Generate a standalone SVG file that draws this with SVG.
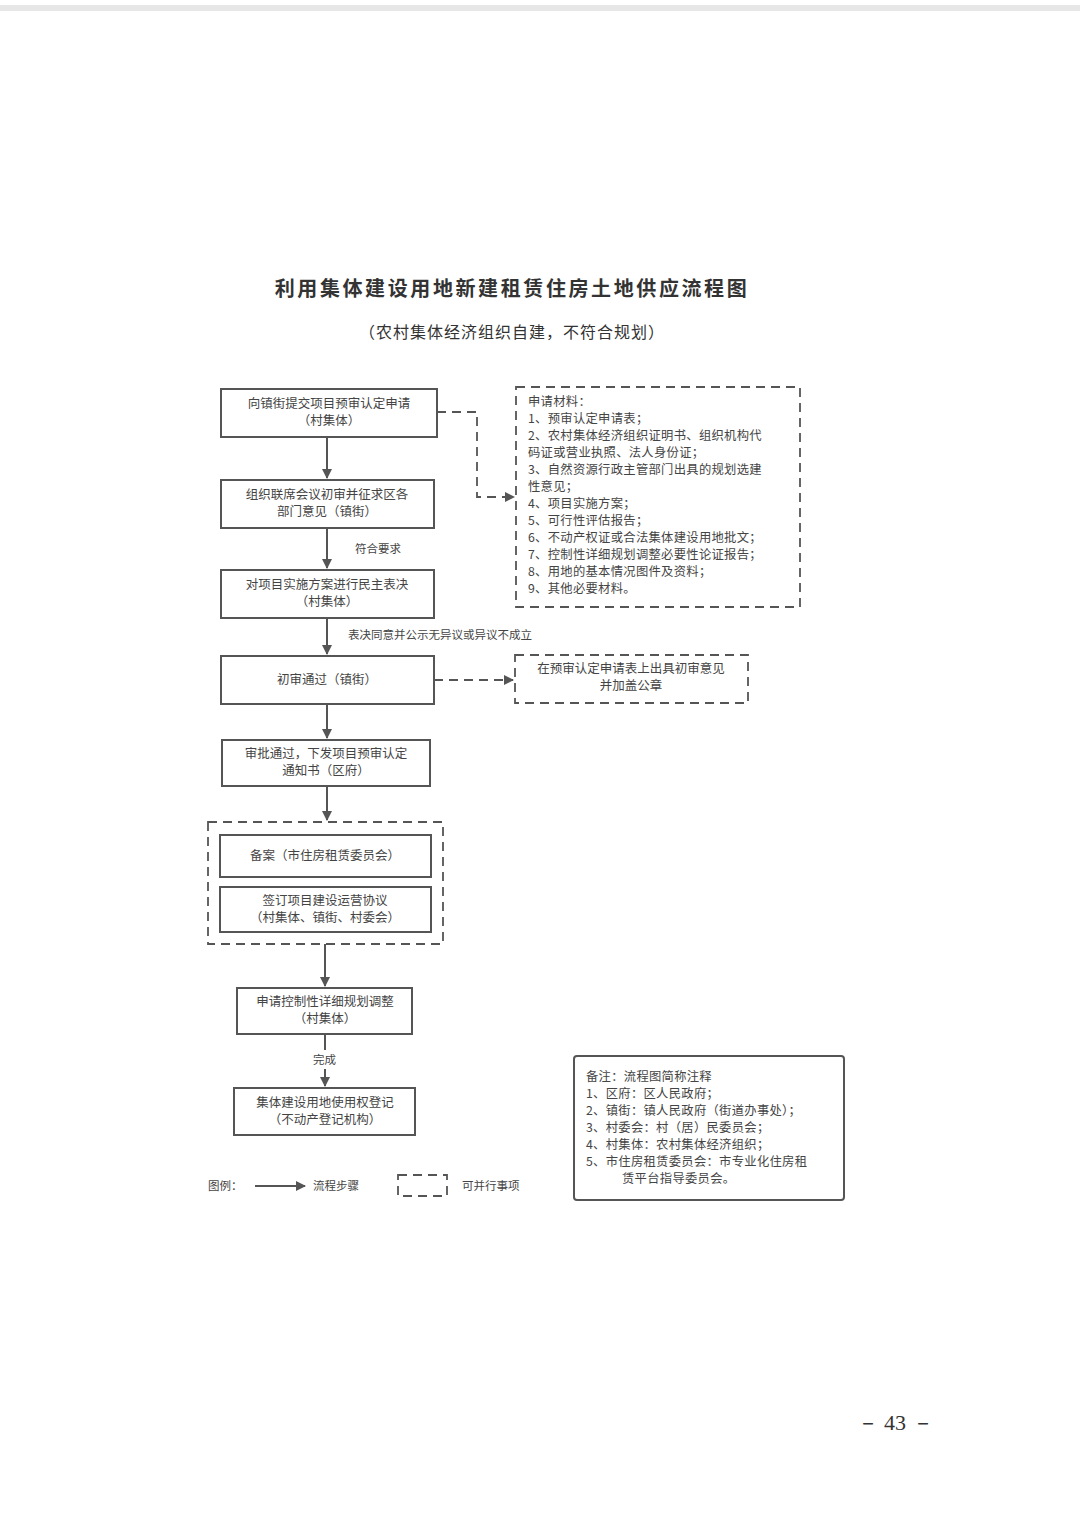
<svg xmlns="http://www.w3.org/2000/svg" width="1080" height="1528" viewBox="0 0 1080 1528">
<style>
text{font-family:"Noto Sans CJK SC","Liberation Sans",sans-serif;fill:#444}
.t{font-size:12.5px;text-anchor:middle}
.s{font-size:11.5px}
.m{font-size:12.3px;letter-spacing:0.3px}
.b{fill:#fff;stroke:#555;stroke-width:2}
.d{fill:none;stroke:#555;stroke-width:1.8;stroke-dasharray:9,6}
.c{fill:none;stroke:#555;stroke-width:2}
</style>
<defs><marker id="a" markerWidth="10" markerHeight="10" refX="9" refY="5" orient="auto" markerUnits="userSpaceOnUse"><path d="M0,0L10,5L0,10z" fill="#555"/></marker></defs>
<rect width="1080" height="1528" fill="#fff"/>
<rect x="0" y="5" width="1080" height="6" fill="#e6e6e6"/>
<text x="512" y="296" style="font-size:20px;font-weight:bold;text-anchor:middle;fill:#333;letter-spacing:2.6px">利用集体建设用地新建租赁住房土地供应流程图</text>
<text x="512" y="338" style="font-size:16px;text-anchor:middle;fill:#333;letter-spacing:1px">（农村集体经济组织自建，不符合规划）</text>
<g id="connectors">
<path class="c" d="M327,437V478" marker-end="url(#a)"/>
<path class="c" d="M327,528V568" marker-end="url(#a)"/>
<path class="c" d="M327,618V654" marker-end="url(#a)"/>
<path class="c" d="M327,704V738" marker-end="url(#a)"/>
<path class="c" d="M327,786V820" marker-end="url(#a)"/>
<path class="c" d="M325,944V986" marker-end="url(#a)"/>
<path class="c" d="M325,1034V1050"/>
<path class="c" d="M325,1069V1086" marker-end="url(#a)"/>
<path class="d" d="M437,412H477V497H514" marker-end="url(#a)"/>
<path class="d" d="M434,680H513" marker-end="url(#a)"/>
<text class="s" x="355" y="553">符合要求</text>
<text class="s" x="348" y="639">表决同意并公示无异议或异议不成立</text>
<text class="s" x="313" y="1064">完成</text>
</g>
<g id="n1"><rect class="b" x="221" y="389" width="216" height="48"/><text class="t" x="329" y="408">向镇街提交项目预审认定申请</text><text class="t" x="329" y="425">（村集体）</text></g>
<g id="n2"><rect class="b" x="221" y="480" width="213" height="48"/><text class="t" x="327" y="499">组织联席会议初审并征求区各</text><text class="t" x="327" y="516">部门意见（镇街）</text></g>
<g id="n3"><rect class="b" x="221" y="570" width="213" height="48"/><text class="t" x="327" y="589">对项目实施方案进行民主表决</text><text class="t" x="327" y="606">（村集体）</text></g>
<g id="n4"><rect class="b" x="221" y="656" width="213" height="48"/><text class="t" x="327" y="684">初审通过（镇街）</text></g>
<g id="n5"><rect class="b" x="222" y="740" width="208" height="46"/><text class="t" x="326" y="758">审批通过，下发项目预审认定</text><text class="t" x="326" y="775">通知书（区府）</text></g>
<g id="par"><rect class="d" x="208" y="822" width="235" height="122"/></g>
<g id="n6"><rect class="b" x="220" y="835" width="211" height="42"/><text class="t" x="325" y="860">备案（市住房租赁委员会）</text></g>
<g id="n7"><rect class="b" x="220" y="887" width="211" height="45"/><text class="t" x="325" y="905">签订项目建设运营协议</text><text class="t" x="325" y="922">（村集体、镇街、村委会）</text></g>
<g id="n8"><rect class="b" x="237" y="988" width="175" height="46"/><text class="t" x="325" y="1006">申请控制性详细规划调整</text><text class="t" x="325" y="1023">（村集体）</text></g>
<g id="n9"><rect class="b" x="234" y="1088" width="181" height="47"/><text class="t" x="325" y="1107">集体建设用地使用权登记</text><text class="t" x="325" y="1124">（不动产登记机构）</text></g>
<g id="materials"><rect class="d" x="516" y="387" width="284" height="220"/>
<text class="m" x="528" y="406">申请材料：</text>
<text class="m" x="528" y="423">1、预审认定申请表；</text>
<text class="m" x="528" y="440">2、农村集体经济组织证明书、组织机构代</text>
<text class="m" x="528" y="457">码证或营业执照、法人身份证；</text>
<text class="m" x="528" y="474">3、自然资源行政主管部门出具的规划选建</text>
<text class="m" x="528" y="491">性意见；</text>
<text class="m" x="528" y="508">4、项目实施方案；</text>
<text class="m" x="528" y="525">5、可行性评估报告；</text>
<text class="m" x="528" y="542">6、不动产权证或合法集体建设用地批文；</text>
<text class="m" x="528" y="559">7、控制性详细规划调整必要性论证报告；</text>
<text class="m" x="528" y="576">8、用地的基本情况图件及资料；</text>
<text class="m" x="528" y="593">9、其他必要材料。</text></g>
<g id="opinion"><rect class="d" x="515" y="655" width="233" height="48"/><text class="t" x="631" y="673">在预审认定申请表上出具初审意见</text><text class="t" x="631" y="690">并加盖公章</text></g>
<g id="notes"><rect fill="#fff" stroke="#555" stroke-width="2" rx="3" x="574" y="1056" width="270" height="144"/>
<text class="m" x="586" y="1081">备注：流程图简称注释</text>
<text class="m" x="586" y="1098">1、区府：区人民政府；</text>
<text class="m" x="586" y="1115">2、镇街：镇人民政府（街道办事处）；</text>
<text class="m" x="586" y="1132">3、村委会：村（居）民委员会；</text>
<text class="m" x="586" y="1149">4、村集体：农村集体经济组织；</text>
<text class="m" x="586" y="1166">5、市住房租赁委员会：市专业化住房租</text>
<text class="m" x="622" y="1183">赁平台指导委员会。</text></g>
<g id="legend">
<text class="s" x="208" y="1190">图例：</text>
<path class="c" d="M255,1186H305" marker-end="url(#a)"/>
<text class="s" x="313" y="1190">流程步骤</text>
<rect class="d" x="398" y="1175" width="49" height="21"/>
<text class="s" x="462" y="1190">可并行事项</text></g>
<text x="895" y="1430" style="font-size:22px;font-family:'Liberation Serif',serif;text-anchor:middle;fill:#333">－ 43 －</text>
</svg>
